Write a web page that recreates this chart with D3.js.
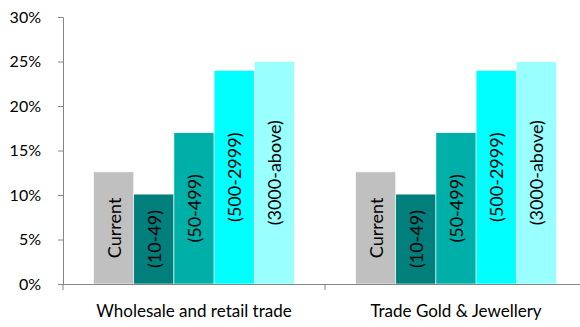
<!DOCTYPE html>
<html lang="en">
  <head>
    <title>Bars by size class</title>
    <style>
      body { margin: 0; padding: 0; background: #fff; }
      #chart { width: 580px; height: 327px; }
      text { font-family: Lato, 'Open Sans', Arial, sans-serif; fill: #000; }
    </style>
  </head>
  <body>
    <div id="chart"></div>
    <script src="https://cdnjs.cloudflare.com/ajax/libs/d3/7.8.5/d3.min.js"></script>
    <script>

    var categories = ['Wholesale and retail trade', 'Trade Gold & Jewellery'];
    var series = ['Current', '(10-49)', '(50-499)', '(500-2999)', '(3000-above)'];
    // one row per category, one value per series
    var values = [
      [0.126, 0.101, 0.170, 0.240, 0.250],
      [0.126, 0.101, 0.170, 0.240, 0.250]
    ];
    var colors = ['#c0c0c0', '#007f7d', '#00b0a8', '#00ffff', '#99ffff'];
    var yTicks = [0, 0.05, 0.10, 0.15, 0.20, 0.25, 0.30];

    var drawChart = function() {

      var width = 580, height = 327;
      var mLeft = 63, mRight = 587, mTop = 17, mBottom = 284;
      var axisColor = '#868686';

      var svg = d3.select('#chart').append('svg')
        .attr('width', width)
        .attr('height', height);

      var x0 = d3.scaleBand().domain(categories).range([mLeft, mRight]);
      var x1 = d3.scaleBand().domain(series).range([0, x0.bandwidth()])
        .paddingInner(0).paddingOuter(0.76);
      var y = d3.scaleLinear().domain([0, 0.30]).range([mBottom, mTop]);

      var groups = svg.selectAll('g.cat')
        .data(categories)
        .enter().append('g')
        .attr('class', 'cat')
        .attr('transform', function(d) { return 'translate(' + x0(d) + ',0)'; });

      groups.each(function(c, ci) {
        var g = d3.select(this);
        var rows = series.map(function(s, si) { return { s: s, v: values[ci][si], i: si }; });

        g.selectAll('rect')
          .data(rows)
          .enter().append('rect')
          .attr('x', function(d) { return x1(d.s); })
          .attr('width', x1.bandwidth())
          .attr('y', function(d) { return y(d.v); })
          .attr('height', function(d) { return mBottom - y(d.v); })
          .style('fill', function(d) { return colors[d.i]; })
          .style('stroke', '#ffffff')
          .style('stroke-width', 0.6);

        g.selectAll('text.lbl')
          .data(rows)
          .enter().append('text')
          .attr('class', 'lbl')
          .attr('text-anchor', 'middle')
          .attr('dominant-baseline', 'central')
          .attr('transform', function(d) {
            var cx = x1(d.s) + x1.bandwidth() / 2;
            var cy = (y(d.v) + mBottom) / 2;
            return 'translate(' + cx + ',' + cy + ') rotate(-90)';
          })
          .style('font-size', '18px')
          .text(function(d) { return d.s; });
      });

      // y axis
      var yAxis = d3.axisLeft(y).tickValues(yTicks).tickSize(5).tickPadding(17)
        .tickFormat(d3.format('.0%'));
      var ya = svg.append('g').attr('transform', 'translate(' + mLeft + ',0)').call(yAxis);
      ya.select('.domain').attr('stroke', axisColor);
      ya.selectAll('.tick line').attr('stroke', axisColor);
      ya.selectAll('.tick text').style('font-size', '16px').attr('fill', '#000')
        .style('font-family', 'Lato, sans-serif');

      // x axis
      var xAxis = d3.axisBottom(x0).tickSize(0).tickPadding(21);
      var xa = svg.append('g').attr('transform', 'translate(0,' + mBottom + ')').call(xAxis);
      xa.select('.domain').attr('stroke', axisColor);
      xa.selectAll('.tick text').style('font-size', '17px').attr('fill', '#000')
        .style('font-family', 'Lato, sans-serif');

      // category boundary ticks
      var edges = x0.domain().map(function(d) { return x0(d); }).concat([mRight]);
      xa.selectAll('line.sep')
        .data(edges)
        .enter().append('line')
        .attr('class', 'sep')
        .attr('x1', function(d) { return d; })
        .attr('x2', function(d) { return d; })
        .attr('y1', 0).attr('y2', 6)
        .attr('stroke', axisColor);
    };

    drawChart();

    </script>
  </body>
</html>
